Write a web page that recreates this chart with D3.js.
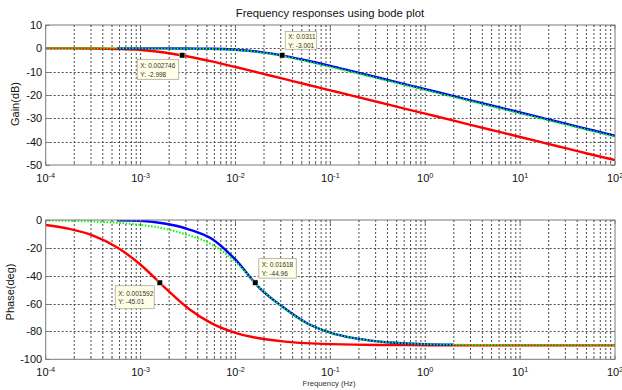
<!DOCTYPE html>
<html>
<head>
<meta charset="utf-8">
<script src="https://cdn.jsdelivr.net/npm/d3@7"></script>
<style>
  body { margin: 0; background: #fff; }
  svg { display: block; }
  text { font-family: "Liberation Sans", Arial, sans-serif; }
</style>
</head>
<body>
<svg id="chart" width="622" height="390"></svg>
<script>
// Frequency grid (Hz) shared by all responses
const freqHz = [1e-4, 1.778e-4, 3.162e-4, 5.623e-4, 1e-3, 1.778e-3, 3.162e-3, 5.623e-3,
  0.01, 0.01778, 0.03162, 0.05623, 0.1, 0.1778, 0.3162, 0.5623, 1, 2, 3.162, 5.623,
  10, 17.78, 31.62, 56.23, 100];

// Gain (dB)
const gainRed = [0.0, 0.0, -0.1, -0.3, -0.7, -1.8, -3.5, -5.6, -8.0, -10.5, -13.0, -15.5,
  -18.0, -20.5, -23.0, -25.5, -28.0, -31.0, -33.0, -35.5, -38.0, -40.5, -43.0, -45.5, -47.9];
const gainBlue = [null, null, null, 0.0, 0.0, 0.0, -0.1, -0.2, -0.6, -1.5, -3.1, -5.2,
  -7.5, -10.0, -12.5, -15.0, -17.5, -20.5, -22.5, -25.0, -27.5, -30.0, -32.5, -35.0, -37.5];
const gainGreen = [0.0, 0.0, 0.0, 0.0, 0.0, -0.1, -0.1, -0.3, -0.7, -1.7, -3.4, -5.6,
  -8.0, -10.4, -12.9, -15.4, -17.9, -20.9, -22.9, -25.4, -27.9, -30.4, -32.9, -35.4, -37.9];

// Phase (deg)
const phaseRed = [-3.6, -6.4, -11.2, -19.5, -32.1, -48.2, -63.3, -74.2, -81.0, -84.9, -87.1, -88.4,
  -89.1, -89.5, -89.7, -89.8, -89.9, -90.0, -90.0, -90.0, -90.0, -90.0, -90.0, -90.0, -90.0];
const phaseBlue = [null, null, null, -0.2, -0.6, -2.5, -6.5, -13.5, -28.5, -48.5, -62.5, -73.9,
  -80.8, -84.8, -87.1, -88.4, -89.1, -89.5, null, null, null, null, null, null, null];
const phaseGreen = [-0.3, -0.6, -1.1, -2.0, -3.5, -6.2, -10.8, -17.5, -30.0, -48.2, -62.7, -73.9,
  -80.8, -84.8, -87.1, -88.4, -89.1, -89.5, -89.7, -89.8, -89.9, -90.0, -90.0, -90.0, -90.0];

// Axis ticks
const gainTicks = [10, 0, -10, -20, -30, -40, -50];
const phaseTicks = [0, -20, -40, -60, -80, -100];
const decadeExponents = [-4, -3, -2, -1, 0, 1, 2];

// Data cursors
const gainTipFreq = [0.002746, 0.0311];
const gainTipValue = [-2.998, -3.001];
const phaseTipFreq = [0.001592, 0.01618];
const phaseTipValue = [-45.01, -44.96];

const svg = d3.select("#chart");
const left = 45.7, right = 615;

const x = d3.scaleLog().domain([1e-4, 1e2]).range([left, right]);

const frameColor = "#7a7a7a";
const gridColor = "#3a3a3a";

svg.append("text")
  .attr("x", 330).attr("y", 17)
  .attr("text-anchor", "middle")
  .attr("font-size", 11.3)
  .attr("fill", "#111")
  .text("Frequency responses using bode plot");

svg.append("text")
  .attr("x", 329).attr("y", 386)
  .attr("text-anchor", "middle")
  .attr("font-size", 7.7)
  .attr("fill", "#333")
  .text("Frequency (Hz)");

function panel(cfg) {
  const y = d3.scaleLinear().domain(cfg.yDomain).range([cfg.bottom, cfg.top]);
  const g = svg.append("g");
  const clipId = "clip" + cfg.id;
  svg.append("clipPath").attr("id", clipId)
    .append("rect").attr("x", left).attr("y", cfg.top)
    .attr("width", right - left).attr("height", cfg.bottom - cfg.top);

  // grid: every log tick vertically, every value tick horizontally
  const vt = x.ticks().filter(v => v > 1e-4 * 1.001 && v < 1e2 * 0.999);
  g.append("g").selectAll("line").data(vt).join("line")
    .attr("x1", d => x(d)).attr("x2", d => x(d))
    .attr("y1", cfg.top).attr("y2", cfg.bottom)
    .attr("stroke", gridColor).attr("stroke-width", 0.9)
    .attr("stroke-dasharray", "2,2");
  const ht = cfg.ticks.filter(v => v !== cfg.yDomain[0] && v !== cfg.yDomain[1]);
  g.append("g").selectAll("line").data(ht).join("line")
    .attr("x1", left).attr("x2", right)
    .attr("y1", d => Math.round(y(d)) + 0.5).attr("y2", d => Math.round(y(d)) + 0.5)
    .attr("stroke", gridColor).attr("stroke-width", 0.9)
    .attr("stroke-dasharray", "2,2");

  // curves
  const pts = vals => freqHz.map((f, i) => [f, vals[i]]);
  const line = d3.line()
    .defined(d => d[1] != null)
    .x(d => x(d[0])).y(d => y(d[1]))
    .curve(d3.curveMonotoneX);
  const cg = g.append("g").attr("clip-path", `url(#${clipId})`);
  cg.append("path").attr("d", line(pts(cfg.red)))
    .attr("fill", "none").attr("stroke", "#ff0000").attr("stroke-width", 2.4);
  cg.append("path").attr("d", line(pts(cfg.blue)))
    .attr("fill", "none").attr("stroke", "#0000ff").attr("stroke-width", 2.4);
  cg.append("path").attr("d", line(pts(cfg.green)))
    .attr("fill", "none").attr("stroke", "#00ff00").attr("stroke-width", 2)
    .attr("stroke-dasharray", "1.6,1.6");

  // frame and inward ticks
  g.append("rect").attr("x", left).attr("y", cfg.top)
    .attr("width", right - left).attr("height", cfg.bottom - cfg.top)
    .attr("fill", "none").attr("stroke", frameColor).attr("stroke-width", 1);
  const tk = g.append("g").attr("stroke", frameColor).attr("stroke-width", 1);
  x.ticks().forEach(v => {
    const major = Math.abs(Math.log10(v) - Math.round(Math.log10(v))) < 1e-6;
    const len = major ? 4 : 2;
    tk.append("line").attr("x1", x(v)).attr("x2", x(v)).attr("y1", cfg.bottom).attr("y2", cfg.bottom - len);
    tk.append("line").attr("x1", x(v)).attr("x2", x(v)).attr("y1", cfg.top).attr("y2", cfg.top + len);
  });
  cfg.ticks.forEach(v => {
    const yy = Math.round(y(v)) + 0.5;
    tk.append("line").attr("x1", left).attr("x2", left + 4).attr("y1", yy).attr("y2", yy);
    tk.append("line").attr("x1", right).attr("x2", right - 4).attr("y1", yy).attr("y2", yy);
  });

  // y tick labels
  g.append("g").selectAll("text").data(cfg.ticks).join("text")
    .attr("x", left - 3.5).attr("y", d => y(d)).attr("dy", "0.36em")
    .attr("text-anchor", "end").attr("font-size", 11).attr("fill", "#111")
    .text(d => d);

  // x tick labels: 10 with superscript exponent
  const xl = g.append("g").selectAll("text").data(decadeExponents).join("text")
    .attr("x", d => x(Math.pow(10, d))).attr("y", cfg.bottom + 17)
    .attr("text-anchor", "middle").attr("font-size", 11).attr("fill", "#111");
  xl.append("tspan").text("10");
  xl.append("tspan").attr("dy", -4.5).attr("font-size", 7.2).text(d => d);

  // y axis label
  svg.append("text")
    .attr("transform", `translate(${cfg.labelX},${cfg.labelY}) rotate(-90)`)
    .attr("text-anchor", "middle").attr("dy", "0.35em")
    .attr("font-size", 11).attr("fill", "#111")
    .text(cfg.label);

  // data cursors
  cfg.tipFreq.forEach((f, i) => {
    const v = cfg.tipValue[i];
    const mx = x(f), my = y(v);
    const L = cfg.tipLayout[i];
    const bx = mx + L.dx, by = my + L.dy;
    const tg = svg.append("g");
    tg.append("rect").attr("x", bx).attr("y", by).attr("width", L.w).attr("height", L.h)
      .attr("fill", "#ffffe6").attr("stroke", "#a8a8a0").attr("stroke-width", 0.8);
    tg.append("text").attr("x", bx + 3).attr("y", by + L.h / 2 - 1.5)
      .attr("font-size", 6.5).attr("fill", "#333").text("X: " + f);
    tg.append("text").attr("x", bx + 3).attr("y", by + L.h / 2 + 7.3)
      .attr("font-size", 6.5).attr("fill", "#333").text("Y: " + v);
    tg.append("rect").attr("x", mx - 2.7).attr("y", my - 2.7).attr("width", 5.4).attr("height", 5.4)
      .attr("fill", "#000").attr("stroke", "#ffffd0").attr("stroke-width", 0.5);
  });
}

panel({
  id: "gain", top: 25, bottom: 165, yDomain: [-50, 10], ticks: gainTicks,
  red: gainRed, blue: gainBlue, green: gainGreen,
  label: "Gain(dB)", labelX: 15.5, labelY: 104,
  tipFreq: gainTipFreq, tipValue: gainTipValue,
  tipLayout: [{dx: -45, dy: 4, w: 41.5, h: 20}, {dx: 3, dy: -24, w: 31.5, h: 18}]
});

panel({
  id: "phase", top: 220, bottom: 359.3, yDomain: [-100, 0], ticks: phaseTicks,
  red: phaseRed, blue: phaseBlue, green: phaseGreen,
  label: "Phase(deg)", labelX: 10.5, labelY: 292,
  tipFreq: phaseTipFreq, tipValue: phaseTipValue,
  tipLayout: [{dx: -44.5, dy: 3, w: 39, h: 23}, {dx: 3.5, dy: -24, w: 37.5, h: 19.5}]
});
</script>
</body>
</html>
